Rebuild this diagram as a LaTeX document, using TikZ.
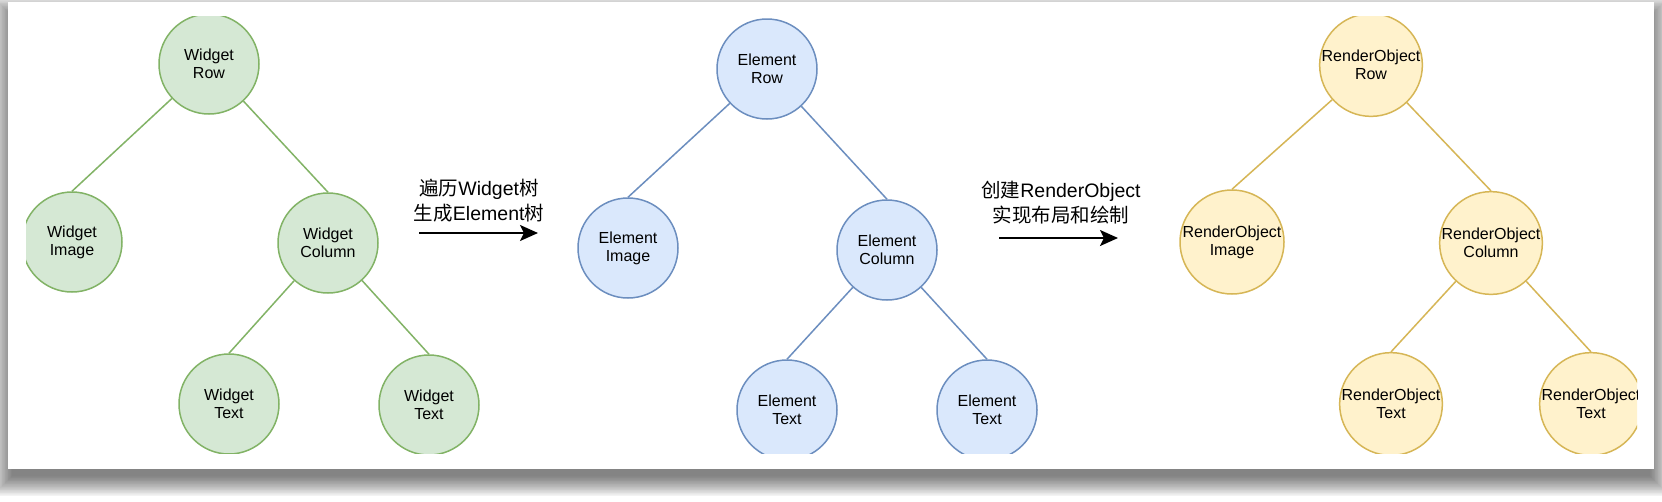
\documentclass[tikz,border=0pt]{standalone}
\usepackage{fontspec}
\setmainfont{Liberation Sans}
\newfontfamily\cjk{Noto Sans CJK SC}
\usetikzlibrary{arrows.meta}
\definecolor{gfill}{HTML}{D5E8D4}\definecolor{gline}{HTML}{82B366}
\definecolor{bfill}{HTML}{DAE8FC}\definecolor{bline}{HTML}{6C8EBF}
\definecolor{yfill}{HTML}{FFF2CC}\definecolor{yline}{HTML}{D6B656}
\tikzset{
  tnode/.style={circle,minimum size=100pt,inner sep=0pt,line width=1.5pt,align=center,
    font=\fontsize{16}{18}\selectfont},
  gnode/.style={tnode,draw=gline,fill=gfill},
  bnode/.style={tnode,draw=bline,fill=bfill},
  ynode/.style={tnode,draw=yline,fill=yfill},
  gedge/.style={draw=gline,line width=1.5pt},
  bedge/.style={draw=bline,line width=1.5pt},
  yedge/.style={draw=yline,line width=1.5pt},
  lbl/.style={align=center,inner sep=0pt,font=\fontsize{19.5}{25}\selectfont},
  bigarrow/.style={line width=2pt,-{Stealth[length=18pt,width=16pt,inset=4pt]}}
}
\begin{document}
\begin{tikzpicture}[x=1pt,y=-1pt]
\useasboundingbox (0,0) rectangle (1662,501);
% shadow
\foreach \k in {0,...,27}{
  \fill[black,opacity=0.022] (12-0.75*\k,16-0.75*\k) rectangle (1650+0.75*\k,476+0.75*\k);
}
\fill[white] (8,2) rectangle (1654,469);
\begin{scope}
\clip (26,16) rectangle (1637,453);
% Widget tree
\node[gnode] (wrow) at (209,64) {Widget\\Row};
\node[gnode] (wimg) at (72,242) {Widget\\Image};
\node[gnode] (wcol) at (328,243) {Widget\\Column};
\node[gnode] (wt1) at (229,404) {Widget\\Text};
\node[gnode] (wt2) at (429,405) {Widget\\Text};
\draw[gedge] (wrow) -- (wimg.north);
\draw[gedge] (wrow) -- (wcol.north);
\draw[gedge] (wcol) -- (wt1.north);
\draw[gedge] (wcol) -- (wt2.north);
% Element tree
\node[bnode] (erow) at (767,69) {Element\\Row};
\node[bnode] (eimg) at (628,248) {Element\\Image};
\node[bnode] (ecol) at (887,250) {Element\\Column};
\node[bnode] (et1) at (787,410) {Element\\Text};
\node[bnode] (et2) at (987,410) {Element\\Text};
\draw[bedge] (erow) -- (eimg.north);
\draw[bedge] (erow) -- (ecol.north);
\draw[bedge] (ecol) -- (et1.north);
\draw[bedge] (ecol) -- (et2.north);
% RenderObject tree
\node[ynode] (rrow) at (1371,65) {RenderObject\\Row};
\node[ynode] (rimg) at (1232,242) {RenderObject\\Image};
\node[ynode] (rcol) at (1491,243) {RenderObject\\Column};
\node[ynode] (rt1) at (1391,404) {RenderObject\\Text};
\node[ynode] (rt2) at (1591,404) {RenderObject\\Text};
\draw[yedge] (rrow) -- (rimg.north);
\draw[yedge] (rrow) -- (rcol.north);
\draw[yedge] (rcol) -- (rt1.north);
\draw[yedge] (rcol) -- (rt2.north);
% arrows
\node[lbl] (l1) at (479,200.5) {{\cjk 遍历}Widget{\cjk 树}\\{\cjk 生成}Element{\cjk 树}};
\coordinate (a1s) at (419,233);
\coordinate (a1e) at (538,233);
\draw[bigarrow] (a1s) -- (a1e);
\node[lbl] (l2) at (1061,202.5) {{\cjk 创建}RenderObject\\{\cjk 实现布局和绘制}};
\coordinate (a2s) at (999,238);
\coordinate (a2e) at (1118,238);
\draw[bigarrow] (a2s) -- (a2e);
\end{scope}
\end{tikzpicture}
\end{document}
